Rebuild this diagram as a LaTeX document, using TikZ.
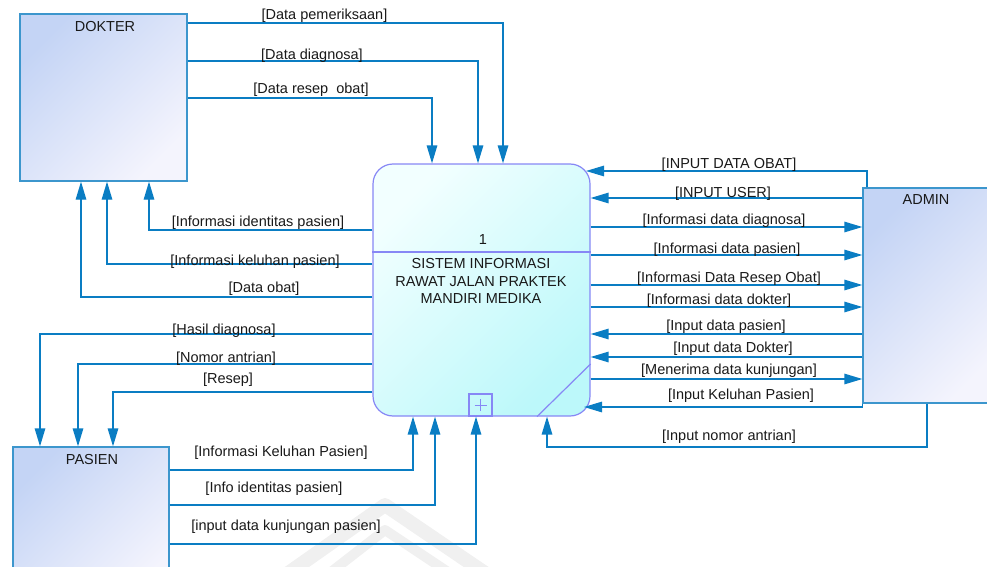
\documentclass[tikz,border=0pt]{standalone}
\usepackage{fontspec}
\setmainfont{Liberation Sans}
\usetikzlibrary{arrows.meta}

\definecolor{flowblue}{RGB}{10,125,195}
\definecolor{entborder}{RGB}{60,150,205}
\definecolor{entA}{RGB}{196,212,245}
\definecolor{entB}{RGB}{244,244,253}
\definecolor{procborder}{RGB}{135,135,245}
\definecolor{procA}{RGB}{242,255,255}
\definecolor{procB}{RGB}{188,248,250}
\definecolor{txt}{RGB}{25,25,25}

\begin{document}
\begin{tikzpicture}[x=1pt,y=-1pt,
  font=\fontsize{14.5}{17.5}\selectfont,
  every node/.style={text=txt},
  entity/.style={draw=entborder, line width=1.3pt, top color=entA,
    bottom color=entB, shading angle=45, inner sep=0pt},
  process/.style={draw=procborder, line width=1.2pt, top color=procA,
    bottom color=procB, shading angle=45, rounded corners=20pt, inner sep=0pt},
  procline/.style={draw=procborder, line width=1.2pt},
  flow/.style={draw=flowblue, line width=1.3pt,
    -{Triangle[length=18pt,width=10.5pt]}},
  lbl/.style={inner sep=0pt},
  title/.style={inner sep=0pt}]

\useasboundingbox (0,0) rectangle (987,567);
\clip (0,0) rectangle (987,567);

% faint background emblem
\draw[black!6, line width=14pt, line join=round] (250,600) -- (385,505) -- (510,590);
\draw[black!6, line width=10pt, line join=round] (295,600) -- (385,530) -- (475,590);

% external entities
\node[entity, minimum width=167pt, minimum height=167pt] (dok) at (103.5,97.5) {};
\node[entity, minimum width=137pt, minimum height=215pt] (adm) at (931.5,295.5) {};
\node[entity, minimum width=156pt, minimum height=153pt] (pas) at (91,523.5) {};
\node[title] (dokT) at (105,27) {DOKTER};
\node[title] (admT) at (926,200) {ADMIN};
\node[title] (pasT) at (92,460) {PASIEN};

% process
\node[process, minimum width=217pt, minimum height=252pt] (proc) at (481.5,290) {};
\draw[procline] (proc.west |- 0,252) -- (proc.east |- 0,252);
\draw[procline] (proc.south -| 537,0) -- (proc.east |- 0,364);
\node[draw=procborder, line width=1.1pt, minimum width=23pt, minimum height=22pt,
  inner sep=0pt] (plus) at (480.5,405) {};
\draw[procborder, line width=0.9pt] ([xshift=-6pt]plus.center) -- ([xshift=6pt]plus.center);
\draw[procborder, line width=0.9pt] ([yshift=-6pt]plus.center) -- ([yshift=6pt]plus.center);
\node[lbl] (pnum) at (483,240) {1};
\node[lbl, align=center] (ptext) at (481,281)
  {SISTEM INFORMASI\\RAWAT JALAN PRAKTEK\\MANDIRI MEDIKA};

% DOKTER -> process
\draw[flow] (dok.east |- 0,23) -| (proc.north -| 503,0);
\draw[flow] (dok.east |- 0,61) -| (proc.north -| 478,0);
\draw[flow] (dok.east |- 0,98) -| (proc.north -| 432,0);
\node[lbl] (l1) at (324.5,16) {[Data pemeriksaan]};
\node[lbl] (l2) at (312,56) {[Data diagnosa]};
\node[lbl] (l3) at (311,90) {[Data resep\ \ obat]};

% process -> DOKTER
\draw[flow] (proc.west |- 0,230) -| (dok.south -| 149,0);
\draw[flow] (proc.west |- 0,264) -| (dok.south -| 107,0);
\draw[flow] (proc.west |- 0,297) -| (dok.south -| 81,0);
\node[lbl] (l4) at (258,223) {[Informasi identitas pasien]};
\node[lbl] (l5) at (255,262) {[Informasi keluhan pasien]};
\node[lbl] (l6) at (264,289) {[Data obat]};

% process -> PASIEN
\draw[flow] (proc.west |- 0,334) -| (pas.north -| 40,0);
\draw[flow] (proc.west |- 0,364) -| (pas.north -| 78,0);
\draw[flow] (proc.west |- 0,392) -| (pas.north -| 113,0);
\node[lbl] (l7) at (224,331) {[Hasil diagnosa]};
\node[lbl] (l8) at (226,359) {[Nomor antrian]};
\node[lbl] (l9) at (228,380) {[Resep]};

% PASIEN -> process
\draw[flow] (pas.east |- 0,470) -| (proc.south -| 413,0);
\draw[flow] (pas.east |- 0,505) -| (proc.south -| 435,0);
\draw[flow] (pas.east |- 0,544) -| (proc.south -| 476,0);
\node[lbl] (l10) at (281,453) {[Informasi Keluhan Pasien]};
\node[lbl] (l11) at (274,489) {[Info identitas pasien]};
\node[lbl] (l12) at (286,527) {[input data kunjungan pasien]};

% ADMIN <-> process
\coordinate (obatIn) at (586,171);
\coordinate (kelIn) at (584,407);
\coordinate (antrBend) at (547,447);
\draw[flow] (adm.north -| 867,0) |- (obatIn);
\draw[flow] (adm.west |- 0,198) -- (proc.east |- 0,198);
\draw[flow] (proc.east |- 0,227) -- (adm.west |- 0,227);
\draw[flow] (proc.east |- 0,255) -- (adm.west |- 0,255);
\draw[flow] (proc.east |- 0,285) -- (adm.west |- 0,285);
\draw[flow] (proc.east |- 0,307) -- (adm.west |- 0,307);
\draw[flow] (adm.west |- 0,334) -- (proc.east |- 0,334);
\draw[flow] (adm.west |- 0,357) -- (proc.east |- 0,357);
\draw[flow] (proc.east |- 0,379) -- (adm.west |- 0,379);
\draw[flow] (adm.south west) |- (kelIn);
\draw[flow] (adm.south -| 927,0) |- (antrBend) -- (proc.south -| antrBend);
\node[lbl] (l13) at (729,165) {[INPUT DATA OBAT]};
\node[lbl] (l14) at (723,194) {[INPUT USER]};
\node[lbl] (l15) at (724,221) {[Informasi data diagnosa]};
\node[lbl] (l16) at (727,250) {[Informasi data pasien]};
\node[lbl] (l17) at (729,279) {[Informasi Data Resep Obat]};
\node[lbl] (l18) at (719,301) {[Informasi data dokter]};
\node[lbl] (l19) at (726,327) {[Input data pasien]};
\node[lbl] (l20) at (733,349) {[Input data Dokter]};
\node[lbl] (l21) at (729,371) {[Menerima data kunjungan]};
\node[lbl] (l22) at (741,396) {[Input Keluhan Pasien]};
\node[lbl] (l23) at (729,437) {[Input nomor antrian]};
\end{tikzpicture}
\end{document}
